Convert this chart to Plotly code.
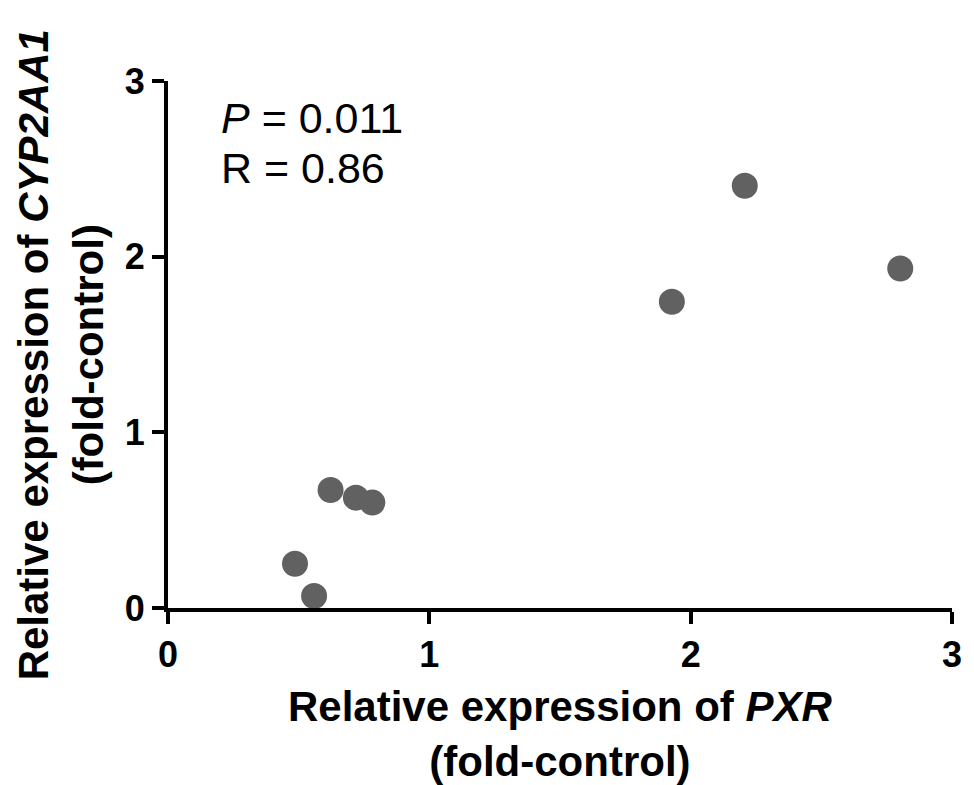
import plotly.graph_objects as go

pxr = [0.486, 0.559, 0.622, 0.719, 0.782, 1.928, 2.207, 2.802]
cyp = [0.252, 0.068, 0.672, 0.628, 0.600, 1.743, 2.404, 1.933]
tick_vals = [0, 1, 2, 3]
tick_text = ["0", "1", "2", "3"]
stat_lines = ["<i>P</i> = 0.011", "R = 0.86"]

FONT = "Liberation Sans, Arial, sans-serif"

fig = go.Figure()
fig.add_trace(go.Scatter(
    x=pxr, y=cyp, mode="markers",
    marker=dict(size=26, color="#616161", line=dict(width=0)),
    cliponaxis=False, showlegend=False,
))

axis_common = dict(
    range=[0, 3], tickvals=tick_vals, ticktext=tick_text,
    showline=True, linewidth=4, linecolor="black",
    ticks="outside", ticklen=12, tickwidth=4, tickcolor="black",
    showgrid=False, zeroline=False, ticklabeloverflow="allow",
    tickfont=dict(family=FONT, size=36, color="black", weight="bold"),
)
fig.update_xaxes(**axis_common)
fig.update_yaxes(**axis_common)

# window size and the page pixels of the plot area corners
WIN_W, WIN_H = 974, 785
X0, X3 = 168, 962      # x = 0 and x = 3
Y0, Y3 = 608, 81       # y = 0 and y = 3
pw, ph = X3 - X0, Y0 - Y3

# the page body starts with an 8px margin: size the figure to fit inside it
OFF = 8
W, H = WIN_W - 2 * OFF, WIN_H - 2 * OFF
L, R, T, B = X0 - OFF, W - (X3 - OFF), Y3 - OFF, H - (Y0 - OFF)

def px_x(p):
    return (p - X0) / pw

def px_y(p):
    return (Y0 - p) / ph

annots = [
    dict(text="<b>Relative expression of <i>PXR</i><br>(fold-control)</b>",
         x=px_x(565), y=px_y(734), xanchor="center", yanchor="middle",
         font=dict(family=FONT, size=42, color="black")),
    dict(text="<b>Relative expression of <i>CYP2AA1</i><br>(fold-control)</b>",
         x=px_x(60), y=px_y(355), xanchor="center", yanchor="middle", textangle=-90,
         font=dict(family=FONT, size=42, color="black")),
    dict(text=stat_lines[0], x=px_x(220), y=px_y(118), xanchor="left", yanchor="middle",
         font=dict(family=FONT, size=43, color="black")),
    dict(text=stat_lines[1], x=px_x(220), y=px_y(168), xanchor="left", yanchor="middle",
         font=dict(family=FONT, size=43, color="black")),
]
for a in annots:
    a.update(xref="paper", yref="paper", showarrow=False)

fig.update_layout(
    width=W, height=H, autosize=False,
    margin=dict(l=L, r=R, t=T, b=B, pad=0),
    plot_bgcolor="white", paper_bgcolor="white",
    annotations=annots,
    font=dict(family=FONT),
)

# once drawn, drop the body margin and grow the figure to the full window,
# keeping the plot area at the same page position
post = (
    "document.body.style.margin='0';"
    "Plotly.relayout(document.getElementById('{plot_id}'), {"
    f"width:{WIN_W}, height:{WIN_H}, 'margin.l':{X0}, 'margin.r':{WIN_W - X3}, "
    f"'margin.t':{Y3}, 'margin.b':{WIN_H - Y0}"
    "});"
)

fig.write_html("out.html", config={"displayModeBar": False}, post_script=post)
